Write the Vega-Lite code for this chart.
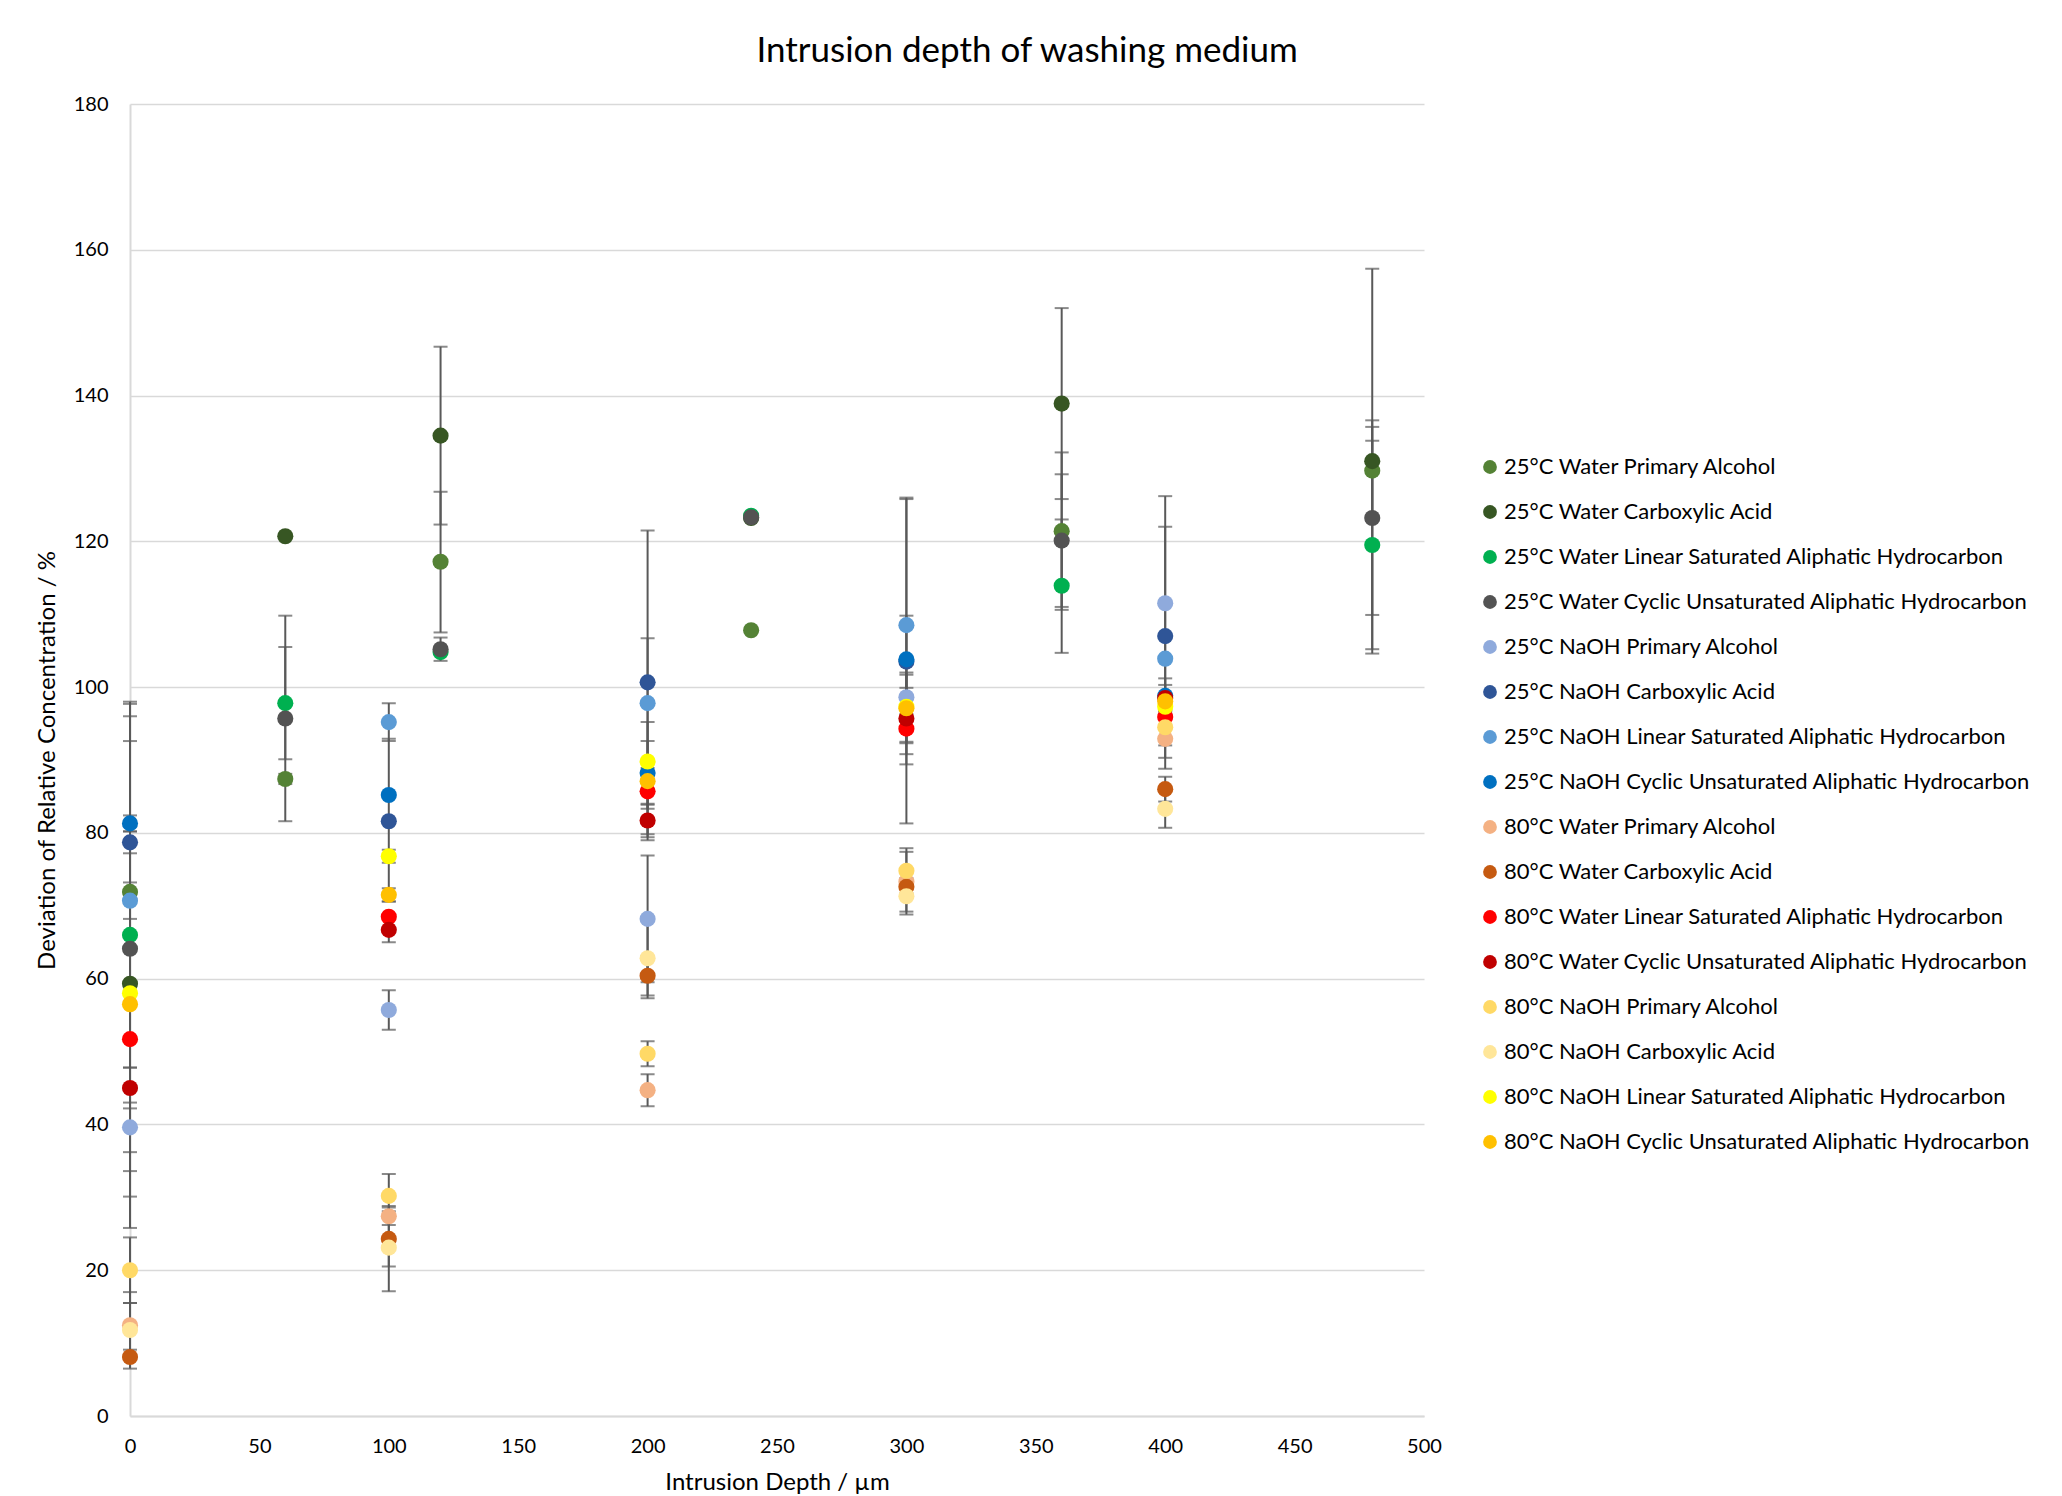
{
  "$schema": "https://vega.github.io/schema/vega-lite/v6.json",
  "autosize": "none",
  "width": 1294,
  "height": 1312,
  "padding": {"left": 130, "top": 104, "right": 638, "bottom": 80},
  "background": "white",
  "title": {"text": "Intrusion depth of washing medium", "fontSize": 35, "font": "Lato", "fontWeight": "normal", "color": "#000000", "anchor": "middle", "frame": "bounds", "offset": 25, "dx": -6},
  "config": {
    "font": "Lato",
    "view": {"stroke": null},
    "axis": {"labelFont": "Lato", "titleFont": "Lato", "labelColor": "#000000", "titleColor": "#000000", "titleFontWeight": "normal", "labelFontSize": 20, "titleFontSize": 24, "ticks": false, "labelFlush": false, "domainColor": "#D9D9D9", "domainWidth": 2, "gridColor": "#D9D9D9", "gridWidth": 1.5}
  },
  "data": {"values": [
    {"s": "25°C Water Primary Alcohol", "x": 0, "y": 71.9, "lo": 47.8, "hi": 96.0},
    {"s": "25°C Water Primary Alcohol", "x": 60, "y": 87.4, "lo": 86.7, "hi": 88.1},
    {"s": "25°C Water Primary Alcohol", "x": 120, "y": 117.2, "lo": 107.5, "hi": 126.8},
    {"s": "25°C Water Primary Alcohol", "x": 240, "y": 107.8},
    {"s": "25°C Water Primary Alcohol", "x": 360, "y": 121.4, "lo": 110.6, "hi": 132.2},
    {"s": "25°C Water Primary Alcohol", "x": 480, "y": 129.7, "lo": 122.8, "hi": 136.6},
    {"s": "25°C Water Carboxylic Acid", "x": 0, "y": 59.3, "lo": 25.8, "hi": 92.6},
    {"s": "25°C Water Carboxylic Acid", "x": 60, "y": 120.7},
    {"s": "25°C Water Carboxylic Acid", "x": 120, "y": 134.5, "lo": 122.3, "hi": 146.7},
    {"s": "25°C Water Carboxylic Acid", "x": 240, "y": 123.2},
    {"s": "25°C Water Carboxylic Acid", "x": 360, "y": 138.9, "lo": 125.8, "hi": 152.0},
    {"s": "25°C Water Carboxylic Acid", "x": 480, "y": 131.0, "lo": 104.6, "hi": 157.4},
    {"s": "25°C Water Linear Saturated Aliphatic Hydrocarbon", "x": 0, "y": 66.0, "lo": 33.6, "hi": 97.7},
    {"s": "25°C Water Linear Saturated Aliphatic Hydrocarbon", "x": 60, "y": 97.8, "lo": 90.1, "hi": 105.5},
    {"s": "25°C Water Linear Saturated Aliphatic Hydrocarbon", "x": 120, "y": 104.8},
    {"s": "25°C Water Linear Saturated Aliphatic Hydrocarbon", "x": 240, "y": 123.5},
    {"s": "25°C Water Linear Saturated Aliphatic Hydrocarbon", "x": 360, "y": 113.9, "lo": 104.7, "hi": 123.0},
    {"s": "25°C Water Linear Saturated Aliphatic Hydrocarbon", "x": 480, "y": 119.5, "lo": 105.2, "hi": 133.8},
    {"s": "25°C Water Cyclic Unsaturated Aliphatic Hydrocarbon", "x": 0, "y": 64.1, "lo": 30.1, "hi": 98.0},
    {"s": "25°C Water Cyclic Unsaturated Aliphatic Hydrocarbon", "x": 60, "y": 95.7, "lo": 81.6, "hi": 109.8},
    {"s": "25°C Water Cyclic Unsaturated Aliphatic Hydrocarbon", "x": 120, "y": 105.2, "lo": 103.6, "hi": 106.8},
    {"s": "25°C Water Cyclic Unsaturated Aliphatic Hydrocarbon", "x": 240, "y": 123.3},
    {"s": "25°C Water Cyclic Unsaturated Aliphatic Hydrocarbon", "x": 360, "y": 120.1, "lo": 111.0, "hi": 129.2},
    {"s": "25°C Water Cyclic Unsaturated Aliphatic Hydrocarbon", "x": 480, "y": 123.2, "lo": 109.9, "hi": 135.7},
    {"s": "25°C NaOH Primary Alcohol", "x": 0, "y": 39.6, "lo": 36.2, "hi": 43.0},
    {"s": "25°C NaOH Primary Alcohol", "x": 100, "y": 55.7, "lo": 53.0, "hi": 58.4},
    {"s": "25°C NaOH Primary Alcohol", "x": 200, "y": 68.2, "lo": 59.5, "hi": 76.9},
    {"s": "25°C NaOH Primary Alcohol", "x": 300, "y": 98.6, "lo": 97.3, "hi": 99.9},
    {"s": "25°C NaOH Primary Alcohol", "x": 400, "y": 111.5, "lo": 96.8, "hi": 126.2},
    {"s": "25°C NaOH Carboxylic Acid", "x": 0, "y": 78.7, "lo": 77.2, "hi": 80.2},
    {"s": "25°C NaOH Carboxylic Acid", "x": 100, "y": 81.6, "lo": 70.6, "hi": 92.9},
    {"s": "25°C NaOH Carboxylic Acid", "x": 200, "y": 100.65, "lo": 79.8, "hi": 121.5},
    {"s": "25°C NaOH Carboxylic Acid", "x": 300, "y": 103.5, "lo": 97.2, "hi": 109.8},
    {"s": "25°C NaOH Carboxylic Acid", "x": 400, "y": 107.0, "lo": 92.0, "hi": 122.0},
    {"s": "25°C NaOH Linear Saturated Aliphatic Hydrocarbon", "x": 0, "y": 70.7, "lo": 68.2, "hi": 73.2},
    {"s": "25°C NaOH Linear Saturated Aliphatic Hydrocarbon", "x": 100, "y": 95.2, "lo": 92.6, "hi": 97.8},
    {"s": "25°C NaOH Linear Saturated Aliphatic Hydrocarbon", "x": 200, "y": 97.8, "lo": 88.9, "hi": 106.7},
    {"s": "25°C NaOH Linear Saturated Aliphatic Hydrocarbon", "x": 300, "y": 108.5, "lo": 90.8, "hi": 125.8},
    {"s": "25°C NaOH Linear Saturated Aliphatic Hydrocarbon", "x": 400, "y": 103.9},
    {"s": "25°C NaOH Cyclic Unsaturated Aliphatic Hydrocarbon", "x": 0, "y": 81.3, "lo": 80.2, "hi": 82.4},
    {"s": "25°C NaOH Cyclic Unsaturated Aliphatic Hydrocarbon", "x": 100, "y": 85.2},
    {"s": "25°C NaOH Cyclic Unsaturated Aliphatic Hydrocarbon", "x": 200, "y": 88.2, "lo": 83.85, "hi": 92.6},
    {"s": "25°C NaOH Cyclic Unsaturated Aliphatic Hydrocarbon", "x": 300, "y": 103.8, "lo": 81.3, "hi": 126.0},
    {"s": "25°C NaOH Cyclic Unsaturated Aliphatic Hydrocarbon", "x": 400, "y": 98.8, "lo": 96.4, "hi": 101.2},
    {"s": "80°C Water Primary Alcohol", "x": 0, "y": 12.45, "lo": 9.1, "hi": 15.5},
    {"s": "80°C Water Primary Alcohol", "x": 100, "y": 27.4, "lo": 26.2, "hi": 28.6},
    {"s": "80°C Water Primary Alcohol", "x": 200, "y": 44.7, "lo": 42.5, "hi": 46.9},
    {"s": "80°C Water Primary Alcohol", "x": 300, "y": 73.3, "lo": 69.2, "hi": 77.4},
    {"s": "80°C Water Primary Alcohol", "x": 400, "y": 92.9, "lo": 88.8, "hi": 97.0},
    {"s": "80°C Water Carboxylic Acid", "x": 0, "y": 8.1},
    {"s": "80°C Water Carboxylic Acid", "x": 100, "y": 24.3, "lo": 20.5, "hi": 28.1},
    {"s": "80°C Water Carboxylic Acid", "x": 200, "y": 60.4, "lo": 57.7, "hi": 63.1},
    {"s": "80°C Water Carboxylic Acid", "x": 300, "y": 72.6},
    {"s": "80°C Water Carboxylic Acid", "x": 400, "y": 86.0, "lo": 84.3, "hi": 87.7},
    {"s": "80°C Water Linear Saturated Aliphatic Hydrocarbon", "x": 0, "y": 51.7},
    {"s": "80°C Water Linear Saturated Aliphatic Hydrocarbon", "x": 100, "y": 68.5},
    {"s": "80°C Water Linear Saturated Aliphatic Hydrocarbon", "x": 200, "y": 85.7, "lo": 83.3, "hi": 88.1},
    {"s": "80°C Water Linear Saturated Aliphatic Hydrocarbon", "x": 300, "y": 94.3, "lo": 92.3, "hi": 96.3},
    {"s": "80°C Water Linear Saturated Aliphatic Hydrocarbon", "x": 400, "y": 95.9},
    {"s": "80°C Water Cyclic Unsaturated Aliphatic Hydrocarbon", "x": 0, "y": 45.0, "lo": 42.2, "hi": 47.8},
    {"s": "80°C Water Cyclic Unsaturated Aliphatic Hydrocarbon", "x": 100, "y": 66.7, "lo": 65.0, "hi": 68.4},
    {"s": "80°C Water Cyclic Unsaturated Aliphatic Hydrocarbon", "x": 200, "y": 81.7, "lo": 79.4, "hi": 84.0},
    {"s": "80°C Water Cyclic Unsaturated Aliphatic Hydrocarbon", "x": 300, "y": 95.7, "lo": 89.4, "hi": 102.0},
    {"s": "80°C Water Cyclic Unsaturated Aliphatic Hydrocarbon", "x": 400, "y": 98.5, "lo": 96.7, "hi": 100.3},
    {"s": "80°C NaOH Primary Alcohol", "x": 0, "y": 20.0, "lo": 15.5, "hi": 24.5},
    {"s": "80°C NaOH Primary Alcohol", "x": 100, "y": 30.2, "lo": 27.2, "hi": 33.2},
    {"s": "80°C NaOH Primary Alcohol", "x": 200, "y": 49.7, "lo": 48.0, "hi": 51.4},
    {"s": "80°C NaOH Primary Alcohol", "x": 300, "y": 74.8, "lo": 71.7, "hi": 77.9},
    {"s": "80°C NaOH Primary Alcohol", "x": 400, "y": 94.5, "lo": 90.3, "hi": 98.7},
    {"s": "80°C NaOH Carboxylic Acid", "x": 0, "y": 11.8, "lo": 6.5, "hi": 17.0},
    {"s": "80°C NaOH Carboxylic Acid", "x": 100, "y": 23.1, "lo": 17.1, "hi": 28.8},
    {"s": "80°C NaOH Carboxylic Acid", "x": 200, "y": 62.8, "lo": 57.3, "hi": 68.3},
    {"s": "80°C NaOH Carboxylic Acid", "x": 300, "y": 71.3, "lo": 68.8, "hi": 73.8},
    {"s": "80°C NaOH Carboxylic Acid", "x": 400, "y": 83.3, "lo": 80.7, "hi": 85.9},
    {"s": "80°C NaOH Linear Saturated Aliphatic Hydrocarbon", "x": 0, "y": 58.0},
    {"s": "80°C NaOH Linear Saturated Aliphatic Hydrocarbon", "x": 100, "y": 76.8, "lo": 75.9, "hi": 77.7},
    {"s": "80°C NaOH Linear Saturated Aliphatic Hydrocarbon", "x": 200, "y": 89.8},
    {"s": "80°C NaOH Linear Saturated Aliphatic Hydrocarbon", "x": 300, "y": 97.3},
    {"s": "80°C NaOH Linear Saturated Aliphatic Hydrocarbon", "x": 400, "y": 97.3},
    {"s": "80°C NaOH Cyclic Unsaturated Aliphatic Hydrocarbon", "x": 0, "y": 56.5},
    {"s": "80°C NaOH Cyclic Unsaturated Aliphatic Hydrocarbon", "x": 100, "y": 71.5, "lo": 70.6, "hi": 72.4},
    {"s": "80°C NaOH Cyclic Unsaturated Aliphatic Hydrocarbon", "x": 200, "y": 87.1, "lo": 79.0, "hi": 95.2},
    {"s": "80°C NaOH Cyclic Unsaturated Aliphatic Hydrocarbon", "x": 300, "y": 97.1, "lo": 92.5, "hi": 101.7},
    {"s": "80°C NaOH Cyclic Unsaturated Aliphatic Hydrocarbon", "x": 400, "y": 98.05}
  ]},
  "encoding": {
    "x": {"field": "x", "type": "quantitative", "scale": {"domain": [0, 500], "nice": false, "zero": false},
      "axis": {"title": "Intrusion Depth / µm", "values": [0, 50, 100, 150, 200, 250, 300, 350, 400, 450, 500], "grid": false, "labelPadding": 20, "titlePadding": 14}}
  },
  "layer": [
    {
      "transform": [{"filter": "datum.lo != null"}],
      "mark": {"type": "rule", "color": "#595959", "strokeWidth": 2},
      "encoding": {
        "y": {"field": "lo", "type": "quantitative", "scale": {"domain": [0, 180], "nice": false}, "axis": {"title": "Deviation of Relative Concentration / %", "values": [0, 20, 40, 60, 80, 100, 120, 140, 160, 180], "grid": true, "labelPadding": 22, "titlePadding": 14}},
        "y2": {"field": "hi"}
      }
    },
    {
      "transform": [{"filter": "datum.lo != null"}],
      "mark": {"type": "tick", "orient": "horizontal", "color": "#595959", "size": 14, "thickness": 2},
      "encoding": {"y": {"field": "lo", "type": "quantitative"}}
    },
    {
      "transform": [{"filter": "datum.lo != null"}],
      "mark": {"type": "tick", "orient": "horizontal", "color": "#595959", "size": 14, "thickness": 2},
      "encoding": {"y": {"field": "hi", "type": "quantitative"}}
    },
    {
      "mark": {"type": "point", "filled": true, "opacity": 1, "size": 260, "shape": "circle"},
      "encoding": {
        "y": {"field": "y", "type": "quantitative"},
        "color": {"field": "s", "type": "nominal",
          "scale": {
            "domain": ["25°C Water Primary Alcohol", "25°C Water Carboxylic Acid", "25°C Water Linear Saturated Aliphatic Hydrocarbon", "25°C Water Cyclic Unsaturated Aliphatic Hydrocarbon", "25°C NaOH Primary Alcohol", "25°C NaOH Carboxylic Acid", "25°C NaOH Linear Saturated Aliphatic Hydrocarbon", "25°C NaOH Cyclic Unsaturated Aliphatic Hydrocarbon", "80°C Water Primary Alcohol", "80°C Water Carboxylic Acid", "80°C Water Linear Saturated Aliphatic Hydrocarbon", "80°C Water Cyclic Unsaturated Aliphatic Hydrocarbon", "80°C NaOH Primary Alcohol", "80°C NaOH Carboxylic Acid", "80°C NaOH Linear Saturated Aliphatic Hydrocarbon", "80°C NaOH Cyclic Unsaturated Aliphatic Hydrocarbon"],
            "range": ["#548235", "#375623", "#00B050", "#535353", "#8FAADC", "#2F5597", "#5B9BD5", "#0070C0", "#F4B183", "#C55A11", "#FF0000", "#C00000", "#FFD966", "#FFE699", "#FFFF00", "#FFC000"]
          },
          "legend": {"title": null, "orient": "none", "legendX": 1349, "legendY": 352, "padding": 0, "symbolType": "circle", "symbolSize": 190, "symbolStrokeWidth": 0, "labelFontSize": 22, "labelFont": "Lato", "labelColor": "#000000", "labelOffset": 3, "rowPadding": 23, "labelLimit": 700}
        }
      }
    }
  ]
}
